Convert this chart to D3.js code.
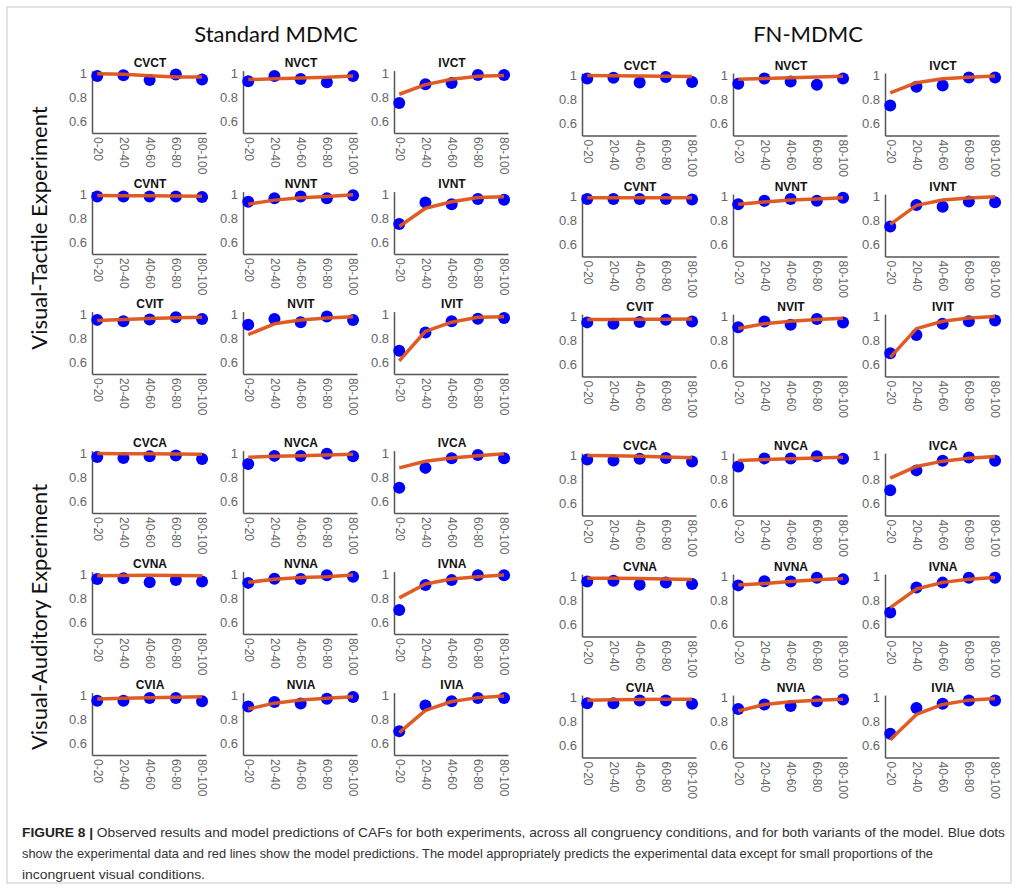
<!DOCTYPE html>
<html>
<head>
<meta charset="utf-8">
<script src="https://cdn.jsdelivr.net/npm/d3@7"></script>
<style>
  body { margin: 0; background: #fff; }
  svg { display: block; }
  .tick text { fill: #666; font-family: "Liberation Sans", Arial, sans-serif; }
  .domain { stroke: #555; stroke-width: 1.5px; }
</style>
</head>
<body>
<svg width="1018" height="889"></svg>
<script>
const bins = ["0-20", "20-40", "40-60", "60-80", "80-100"];
const yTicks = [0.6, 0.8, 1];
const models = ["Standard MDMC", "FN-MDMC"];
const experiments = ["Visual-Tactile Experiment", "Visual-Auditory Experiment"];
const conditions = [
  "CVCT", "NVCT", "IVCT",
  "CVNT", "NVNT", "IVNT",
  "CVIT", "NVIT", "IVIT",
  "CVCA", "NVCA", "IVCA",
  "CVNA", "NVNA", "IVNA",
  "CVIA", "NVIA", "IVIA"
];

// blue dots: experimental data (same for both models)
const observed = [
  [0.975, 0.982, 0.942, 0.987, 0.946],
  [0.932, 0.975, 0.950, 0.922, 0.975],
  [0.750, 0.907, 0.917, 0.984, 0.983],
  [0.980, 0.980, 0.980, 0.980, 0.975],
  [0.935, 0.965, 0.980, 0.965, 0.990],
  [0.750, 0.930, 0.915, 0.958, 0.953],
  [0.951, 0.940, 0.954, 0.973, 0.959],
  [0.910, 0.959, 0.932, 0.980, 0.950],
  [0.694, 0.845, 0.940, 0.960, 0.966],
  [0.967, 0.959, 0.972, 0.980, 0.950],
  [0.909, 0.976, 0.975, 0.993, 0.972],
  [0.710, 0.876, 0.956, 0.984, 0.956],
  [0.959, 0.964, 0.931, 0.950, 0.937],
  [0.926, 0.961, 0.959, 0.989, 0.978],
  [0.700, 0.908, 0.949, 0.990, 0.990],
  [0.953, 0.953, 0.975, 0.975, 0.948],
  [0.905, 0.941, 0.929, 0.968, 0.983],
  [0.698, 0.913, 0.948, 0.975, 0.975]
];

// red lines: Standard MDMC predictions
const standardPred = [
  [0.994, 0.989, 0.977, 0.966, 0.966],
  [0.945, 0.952, 0.958, 0.964, 0.975],
  [0.823, 0.903, 0.948, 0.972, 0.980],
  [0.988, 0.986, 0.985, 0.983, 0.981],
  [0.915, 0.949, 0.969, 0.980, 0.994],
  [0.729, 0.881, 0.936, 0.970, 0.978],
  [0.946, 0.955, 0.962, 0.968, 0.972],
  [0.828, 0.918, 0.950, 0.967, 0.978],
  [0.610, 0.856, 0.932, 0.973, 0.978],
  [0.995, 0.994, 0.993, 0.992, 0.990],
  [0.964, 0.972, 0.978, 0.984, 0.990],
  [0.876, 0.931, 0.959, 0.978, 0.994],
  [0.986, 0.988, 0.990, 0.988, 0.986],
  [0.931, 0.956, 0.970, 0.978, 0.992],
  [0.801, 0.917, 0.959, 0.978, 0.992],
  [0.967, 0.973, 0.978, 0.982, 0.986],
  [0.883, 0.932, 0.959, 0.973, 0.986],
  [0.687, 0.872, 0.946, 0.978, 0.992]
];

// red lines: FN-MDMC predictions
const fnPred = [
  [1.000, 0.998, 0.996, 0.994, 0.992],
  [0.968, 0.975, 0.981, 0.987, 0.993],
  [0.856, 0.940, 0.973, 0.986, 0.995],
  [0.990, 0.990, 0.990, 0.990, 0.990],
  [0.935, 0.955, 0.970, 0.980, 0.990],
  [0.767, 0.926, 0.971, 0.987, 0.997],
  [0.975, 0.976, 0.977, 0.978, 0.979],
  [0.900, 0.940, 0.960, 0.975, 0.985],
  [0.659, 0.899, 0.960, 0.987, 1.000],
  [1.000, 0.997, 0.993, 0.988, 0.982],
  [0.959, 0.966, 0.973, 0.979, 0.986],
  [0.812, 0.909, 0.953, 0.978, 0.992],
  [0.986, 0.985, 0.983, 0.980, 0.975],
  [0.929, 0.942, 0.959, 0.973, 0.984],
  [0.740, 0.896, 0.951, 0.978, 0.992],
  [0.978, 0.982, 0.984, 0.985, 0.986],
  [0.887, 0.942, 0.964, 0.978, 0.986],
  [0.647, 0.859, 0.942, 0.978, 0.992]
];

const captionLines = [
  ["FIGURE 8 | ", "Observed results and model predictions of CAFs for both experiments, across all congruency conditions, and for both variants of the model. Blue dots"],
  ["", "show the experimental data and red lines show the model predictions. The model appropriately predicts the experimental data except for small proportions of the"],
  ["", "incongruent visual conditions."]
];

const svg = d3.select("svg");
svg.append("rect").attr("width", 1018).attr("height", 889).attr("fill", "#fff");

// frame
svg.append("rect")
  .attr("x", 7).attr("y", 7).attr("width", 1004).attr("height", 876)
  .attr("fill", "none").attr("stroke", "#c8c8c8").attr("stroke-width", 1);

// layout
const colX = [[92, 243, 394], [582, 733, 885]];
const rowBottom = [[133, 254, 374, 513, 634, 755], [135.5, 256.5, 376.5, 515.5, 636.5, 757.5]];
const panelW = 114;
const pxPerUnit = 120;
const predSets = [standardPred, fnPred];

const line = d3.line();

models.forEach((model, m) => {
  svg.append("text")
    .attr("x", m === 0 ? 276 : 808)
    .attr("y", 42)
    .attr("text-anchor", "middle")
    .attr("font-family", "Lato, 'Open Sans', sans-serif")
    .attr("font-size", 22)
    .attr("fill", "#111")
    .text(model);

  conditions.forEach((cond, i) => {
    const r = Math.floor(i / 3), c = i % 3;
    const x0 = colX[m][c];
    const yb = rowBottom[m][r];
    const x = d3.scaleLinear().domain([0.8, 5.15]).range([x0, x0 + panelW]);
    const y = d3.scaleLinear().domain([0.5, 1.02]).range([yb, yb - 0.52 * pxPerUnit]);

    const g = svg.append("g");

    g.append("g")
      .attr("transform", `translate(0,${yb})`)
      .call(d3.axisBottom(x).tickValues([1, 2, 3, 4, 5]).tickSize(0).tickFormat((d, k) => bins[k]))
      .call(a => a.selectAll(".tick text")
        .attr("font-size", 12)
        .attr("transform", "rotate(90)")
        .attr("text-anchor", "start")
        .attr("x", 4).attr("y", 0).attr("dy", "0.35em"));

    g.append("g")
      .attr("transform", `translate(${x0},0)`)
      .call(d3.axisLeft(y).tickValues(yTicks).tickSize(0).tickPadding(5).tickFormat(d3.format("")))
      .call(a => a.selectAll(".tick text").attr("font-size", 13));

    g.selectAll(".domain").attr("stroke", "#555").attr("stroke-width", 1.5);

    g.append("text")
      .attr("x", x0 + panelW / 2 + 1)
      .attr("y", y(1) - 6)
      .attr("text-anchor", "middle")
      .attr("font-family", "'Liberation Sans', Arial, sans-serif")
      .attr("font-weight", "bold")
      .attr("font-size", 12)
      .attr("fill", "#111")
      .text(cond);

    g.selectAll("circle")
      .data(observed[i])
      .join("circle")
      .attr("cx", (d, k) => x(k + 1))
      .attr("cy", d => y(d))
      .attr("r", 6)
      .attr("fill", "#0000ff");

    g.append("path")
      .attr("d", line(predSets[m][i].map((d, k) => [x(k + 1), y(d)])))
      .attr("fill", "none")
      .attr("stroke", "#dd5418")
      .attr("stroke-width", 3.5)
      .attr("stroke-linejoin", "round")
      .attr("opacity", 0.95);
  });
});

// row group labels
[228, 617].forEach((cy, e) => {
  svg.append("text")
    .attr("transform", `translate(47,${cy}) rotate(-90)`)
    .attr("text-anchor", "middle")
    .attr("font-family", "Lato, 'Open Sans', sans-serif")
    .attr("font-size", 22)
    .attr("fill", "#111")
    .text(experiments[e]);
});

// caption
const capLengths = [983, 911, 183];
captionLines.forEach((ln, k) => {
  const t = svg.append("text")
    .attr("x", 22)
    .attr("y", 837 + k * 21)
    .attr("font-family", "'Liberation Sans', Arial, sans-serif")
    .attr("font-size", 13)
    .attr("fill", "#333")
    .attr("textLength", capLengths[k])
    .attr("lengthAdjust", "spacingAndGlyphs");
  if (ln[0]) t.append("tspan").attr("font-weight", "bold").attr("fill", "#222").text(ln[0]);
  t.append("tspan").text(ln[1]);
});
</script>
</body>
</html>
